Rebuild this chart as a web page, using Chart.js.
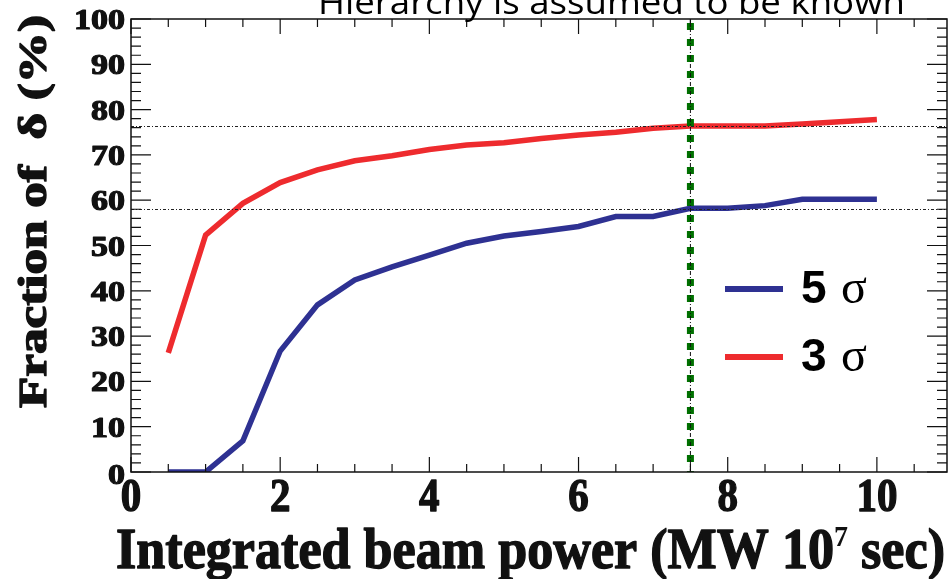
<!DOCTYPE html>
<html>
<head>
<meta charset="utf-8">
<script src="https://cdn.jsdelivr.net/npm/chart.js@4.4.1/dist/chart.umd.min.js"></script>
<style>
html,body{margin:0;padding:0;background:#fff;}
#wrap{width:949px;height:579px;position:relative;}
canvas{display:block;}
</style>
</head>
<body>
<div id="wrap"><canvas id="c" width="949" height="579"></canvas></div>
<script>
// ---- data ----
const xValues = [0.5,1,1.5,2,2.5,3,3.5,4,4.5,5,5.5,6,6.5,7,7.5,8,8.5,9,9.5,10];
const sigma5 = [0,0,6.9,26.7,36.9,42.4,45.3,47.9,50.5,52.1,53.1,54.2,56.4,56.4,58.2,58.2,58.8,60.2,60.2,60.2];
const sigma3 = [26.3,52.3,59.3,63.9,66.7,68.7,69.8,71.2,72.2,72.7,73.6,74.4,75.0,75.9,76.4,76.4,76.4,76.8,77.3,77.8];
const seriesLabels = ['5', '3'];
const xTickLabels = ['0','2','4','6','8','10'];
const yTickLabels = ['0','10','20','30','40','50','60','70','80','90','100'];
const refLinesY = [76.4, 58.1];
const refLineX = 7.5;
const titleText = 'Hierarchy is assumed to be known';
const yTitle = 'Fraction of  \u03b4 (%)';
const xTitleMain = 'Integrated beam power (MW 10';
const xTitleSup = '7';
const xTitleEnd = ' sec)';

const BLUE = '#2e3192';
const RED = '#ee2b2e';

function toPts(ys){ return xValues.map((x,i)=>({x:x,y:ys[i]})); }

function fitText(ctx, text, x, y, font, targetW, align, bold){
  ctx.save();
  ctx.font = font;
  const w = ctx.measureText(text).width;
  const sx = targetW ? targetW / w : 1;
  ctx.translate(x, y);
  ctx.scale(sx, 1);
  ctx.textAlign = align || 'left';
  ctx.textBaseline = 'alphabetic';
  if (bold){ ctx.lineWidth = bold; ctx.strokeStyle = ctx.fillStyle; ctx.lineJoin='round'; ctx.strokeText(text, 0, 0); }
  ctx.fillText(text, 0, 0);
  ctx.restore();
  return w * sx;
}

const decor = {
  id: 'decor',
  afterDatasetsDraw(chart){
    const ctx = chart.ctx;
    const xs = chart.scales.x, ys = chart.scales.y;
    const a = chart.chartArea;
    ctx.save();
    // horizontal reference lines
    ctx.strokeStyle = '#222';
    ctx.lineWidth = 1;
    ctx.setLineDash([3,2,1,2]);
    refLinesY.forEach(v=>{
      const py = Math.round(ys.getPixelForValue(v))+0.5;
      ctx.beginPath(); ctx.moveTo(a.left, py); ctx.lineTo(a.right, py); ctx.stroke();
    });
    // vertical green line
    const px = xs.getPixelForValue(refLineX);
    ctx.strokeStyle = '#007000';
    ctx.lineWidth = 7;
    ctx.setLineDash([7,9]);
    ctx.lineDashOffset = -4;
    ctx.beginPath(); ctx.moveTo(px, a.top); ctx.lineTo(px, a.bottom); ctx.stroke();
    ctx.lineDashOffset = 0;
    ctx.strokeStyle = '#111';
    ctx.lineWidth = 1;
    ctx.setLineDash([4,2,1,2]);
    ctx.beginPath(); ctx.moveTo(px, a.top); ctx.lineTo(px, a.bottom); ctx.stroke();
    ctx.setLineDash([]);
    ctx.restore();
  },
  afterDraw(chart){
    const ctx = chart.ctx;
    const xs = chart.scales.x, ys = chart.scales.y;
    const a = chart.chartArea;
    ctx.save();
    // frame
    ctx.strokeStyle = '#111';
    ctx.lineWidth = 1.5;
    ctx.strokeRect(a.left, a.top, a.right - a.left, a.bottom - a.top);
    // x ticks
    ctx.lineWidth = 1.2;
    for (let v = 0; v <= 10.9; v += 0.5){
      const p = xs.getPixelForValue(v);
      const major = Math.abs(v/2 - Math.round(v/2)) < 1e-6;
      const L = major ? 15 : 8;
      ctx.beginPath();
      ctx.moveTo(p, a.bottom); ctx.lineTo(p, a.bottom - L);
      ctx.moveTo(p, a.top); ctx.lineTo(p, a.top + L);
      ctx.stroke();
    }
    // y ticks
    for (let v = 0; v <= 100; v += 2){
      const p = ys.getPixelForValue(v);
      const major = v % 10 === 0;
      const L = major ? 20 : 10;
      ctx.beginPath();
      ctx.moveTo(a.left, p); ctx.lineTo(a.left + L, p);
      ctx.moveTo(a.right, p); ctx.lineTo(a.right - L, p);
      ctx.stroke();
    }
    // tick labels
    ctx.fillStyle = '#111';
    yTickLabels.forEach(t=>{
      const v = parseFloat(t);
      const p = ys.getPixelForValue(v);
      const dy = v === 0 ? 12 : 10;
      fitText(ctx, t, a.left - 6, p + dy, 'bold 30px "Liberation Serif"', t.length*17, 'right', 1.2);
    });
    xTickLabels.forEach(t=>{
      const v = parseFloat(t);
      const p = xs.getPixelForValue(v);
      fitText(ctx, t, p, 511, 'bold 47px "Liberation Serif"', t.length*20.5, 'center', 1.4);
    });
    // x title
    ctx.save();
    ctx.font = 'bold 56px "Liberation Serif"';
    const w1 = ctx.measureText(xTitleMain).width;
    const w3 = ctx.measureText(xTitleEnd).width;
    ctx.font = 'bold 30px "Liberation Serif"';
    const w2 = ctx.measureText(xTitleSup).width;
    const total = w1 + w2 + w3;
    const target = 829;
    const sx = target / total;
    ctx.translate(116, 568);
    ctx.scale(sx, 1);
    ctx.textAlign = 'left';
    ctx.strokeStyle = '#111'; ctx.lineWidth = 1.4; ctx.lineJoin = 'round';
    ctx.font = 'bold 56px "Liberation Serif"';
    ctx.strokeText(xTitleMain, 0, 0); ctx.fillText(xTitleMain, 0, 0);
    ctx.font = 'bold 30px "Liberation Serif"';
    ctx.fillText(xTitleSup, w1, -22);
    ctx.font = 'bold 56px "Liberation Serif"';
    ctx.strokeText(xTitleEnd, w1 + w2, 0); ctx.fillText(xTitleEnd, w1 + w2, 0);
    ctx.restore();
    // y title
    ctx.save();
    ctx.translate(46, 211.5);
    ctx.rotate(-Math.PI/2);
    fitText(ctx, yTitle, 0, 0, 'bold 39px "Liberation Serif"', 393, 'center', 1.4);
    ctx.restore();
    // top title
    ctx.fillStyle = '#000';
    fitText(ctx, titleText, 318, 14, '32px "Open Sans"', 587, 'left');
    // legend
    const legendRows = [{c:BLUE, y:289, t:seriesLabels[0]}, {c:RED, y:357, t:seriesLabels[1]}];
    legendRows.forEach(r=>{
      ctx.strokeStyle = r.c; ctx.lineWidth = 6;
      ctx.beginPath(); ctx.moveTo(725, r.y); ctx.lineTo(783, r.y); ctx.stroke();
      ctx.fillStyle = '#000';
      ctx.font = 'bold 46px "Liberation Sans"';
      ctx.textAlign = 'left'; ctx.textBaseline = 'alphabetic';
      ctx.fillText(r.t, 801, r.y + 14);
      ctx.font = '48px "Liberation Serif"';
      ctx.fillText('\u03c3', 841, r.y + 14);
    });
    ctx.restore();
  }
};

new Chart(document.getElementById('c'), {
  type: 'line',
  data: {
    datasets: [
      { label: '5 sigma', data: toPts(sigma5), borderColor: BLUE, borderWidth: 5.5, pointRadius: 0, tension: 0, fill: false },
      { label: '3 sigma', data: toPts(sigma3), borderColor: RED, borderWidth: 5.5, pointRadius: 0, tension: 0, fill: false }
    ]
  },
  options: {
    responsive: false,
    animation: false,
    devicePixelRatio: 1,
    layout: { padding: { top: 19, right: 2, left: 0, bottom: 0 } },
    plugins: { legend: { display: false }, tooltip: { enabled: false }, title: { display: false } },
    scales: {
      x: {
        type: 'linear', min: 0, max: 10.94,
        grid: { display: false }, border: { display: false },
        ticks: { display: false },
        afterFit(s){ s.height = 107; }
      },
      y: {
        type: 'linear', min: 0, max: 100,
        grid: { display: false }, border: { display: false },
        ticks: { display: false },
        afterFit(s){ s.width = 131; }
      }
    }
  },
  plugins: [decor]
});
</script>
</body>
</html>
